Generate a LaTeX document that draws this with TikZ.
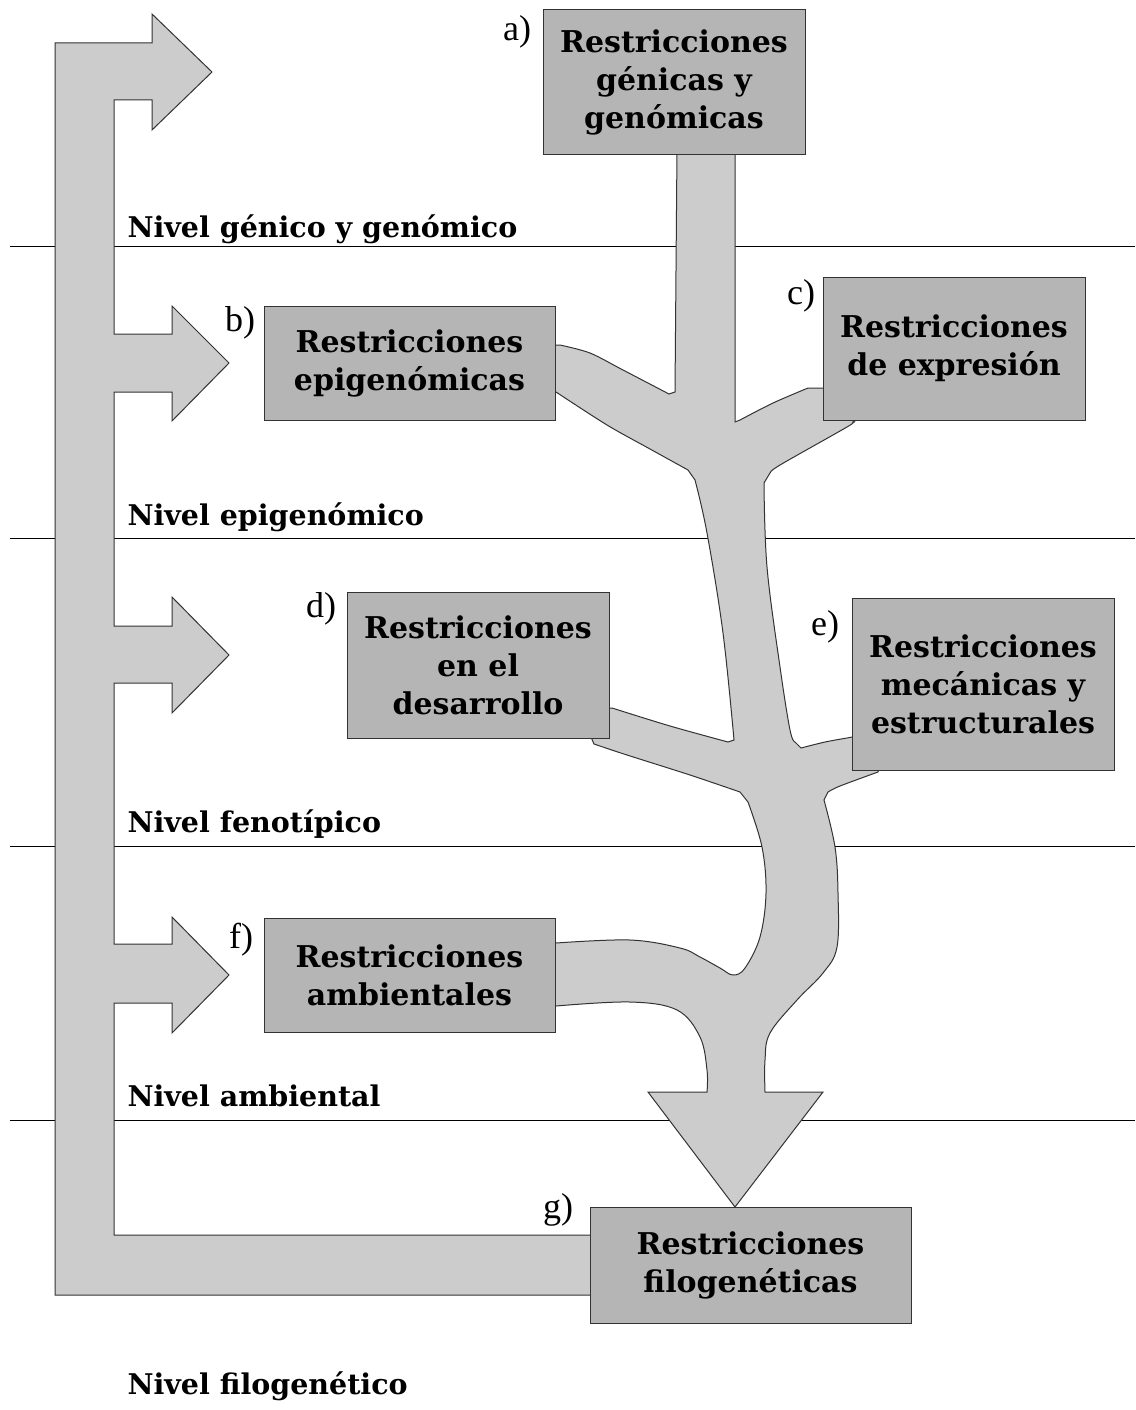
\documentclass[tikz,border=0pt]{standalone}
\usepackage{fontspec}
\setmainfont{DejaVu Serif}
\newfontfamily\labfont{Liberation Serif}
\usepackage{tikz}
\definecolor{arrowgray}{gray}{0.8}
\definecolor{boxgray}{gray}{0.71}
\definecolor{edgegray}{gray}{0.2}
\tikzset{
  restr/.style={draw=edgegray, fill=boxgray, line width=1pt, align=center, inner sep=0pt,
    font=\bfseries\fontsize{30}{38}\selectfont},
  letra/.style={font=\labfont\fontsize{36}{36}\selectfont},
  nivel/.style={anchor=base west, font=\bfseries\fontsize{28.5}{28.5}\selectfont},
  sombra/.style={draw=edgegray, fill=arrowgray, line width=1pt}
}

\begin{document}
\begin{tikzpicture}[x=1pt,y=-1pt]
\useasboundingbox (0,0) rectangle (1135,1410);

% niveles
\draw (10,246) -- (1135,246);
\draw (10,538) -- (1135,538);
\draw (10,846) -- (1135,846);
\draw (10,1120) -- (1135,1120);

% flecha de retroalimentacion
\draw[sombra] (55,1295) -- (55,43) -- (152,43) -- (152,14) -- (212,72) -- (152,130) -- (152,100)
  -- (114,100) -- (114,334) -- (172,334) -- (172,306) -- (229,363) -- (172,421) -- (172,392)
  -- (114,392) -- (114,626) -- (172,626) -- (172,597) -- (229,655) -- (172,713) -- (172,683)
  -- (114,683) -- (114,944) -- (172,944) -- (172,917) -- (229,975) -- (172,1033) -- (172,1003)
  -- (114,1003) -- (114,1235) -- (592,1235) -- (592,1295) -- cycle;

% arbol
\draw[sombra] (677,148) -- (675,392)
  -- plot[smooth,tension=0.5] coordinates {(669,394) (623,370) (590,353) (560,345)}
  -- (546,345) -- (546,392) -- (556,392)
  -- plot[smooth,tension=0.5] coordinates {(556,392) (607,425) (650,449) (688,470)}
  -- plot[smooth,tension=0.6] coordinates {(695,480) (707,533) (723,633) (734,740)}
  -- plot[smooth,tension=0.5] coordinates {(728,742) (670,726) (612,708)}
  -- (600,708) -- (600,734) -- (591,737)
  -- plot[smooth,tension=0.5] coordinates {(594,744) (627,755) (690,775) (740,792)}
  -- plot[smooth,tension=0.6] coordinates {(748,802) (762,847) (766,893) (760,937) (745,968)
     (733,975) (720,968) (700,957) (680,948) (630,940) (556,943)}
  -- (546,943) -- (546,1006) -- (556,1006)
  -- plot[smooth,tension=0.6] coordinates {(556,1006) (630,1002) (677,1010) (700,1037)
     (707,1070) (707,1092)}
  -- (648,1092) -- (735,1207) -- (823,1092) -- (765,1092)
  -- plot[smooth,tension=0.6] coordinates {(765,1092) (765,1060) (770,1033) (797,1000)
     (823,973) (837,947) (838,893) (835,847) (824,800)}
  -- plot[smooth,tension=0.5] coordinates {(828,792) (840,786) (878,772)}
  -- (880,766) -- (880,737) -- (852,737)
  -- plot[smooth,tension=0.5] coordinates {(847,738) (825,742) (801,748)}
  -- plot[smooth,tension=0.6] coordinates {(795,742) (790,730) (780,667) (767,567) (764,483)}
  -- plot[smooth,tension=0.5] coordinates {(770,473) (780,465) (847,427) (853,422)}
  -- (860,418) -- (860,388) -- (822,388)
  -- plot[smooth,tension=0.5] coordinates {(808,388) (773,403) (740,420)}
  -- (735,422) -- (735,148) -- cycle;

% restricciones
\node[restr, minimum width=262pt, minimum height=144pt] (agen) at (674,82)
  {Restricciones\\génicas y\\genómicas};
\node[restr, minimum width=291pt, minimum height=114pt] (bepi) at (409.5,363)
  {Restricciones\\epigenómicas};
\node[restr, minimum width=262pt, minimum height=143pt] (cexp) at (954,348.5)
  {Restricciones\\de expresión};
\node[restr, minimum width=262pt, minimum height=146pt] (ddes) at (478,665)
  {Restricciones\\en el\\desarrollo};
\node[restr, minimum width=262pt, minimum height=172pt] (emec) at (983,684)
  {Restricciones\\mecánicas y\\estructurales};
\node[restr, minimum width=291pt, minimum height=114pt] (famb) at (409.5,975)
  {Restricciones\\ambientales};
\node[restr, minimum width=321pt, minimum height=116pt] (gfil) at (750.5,1265)
  {Restricciones\\filogenéticas};

\node[letra] (la) at (517,32) {a)};
\node[letra] (lb) at (240,323) {b)};
\node[letra] (lc) at (801,296) {c)};
\node[letra] (ld) at (321,609) {d)};
\node[letra] (le) at (825,627) {e)};
\node[letra] (lf) at (241,940) {f)};
\node[letra] (lg) at (558,1210) {g)};

\node[nivel] (ngen) at (124,237) {Nivel génico y genómico};
\node[nivel] (nepi) at (124,525) {Nivel epigenómico};
\node[nivel] (nfen) at (124,832) {Nivel fenotípico};
\node[nivel] (namb) at (124,1106) {Nivel ambiental};
\node[nivel] (nfil) at (124,1394) {Nivel filogenético};
\end{tikzpicture}
\end{document}
